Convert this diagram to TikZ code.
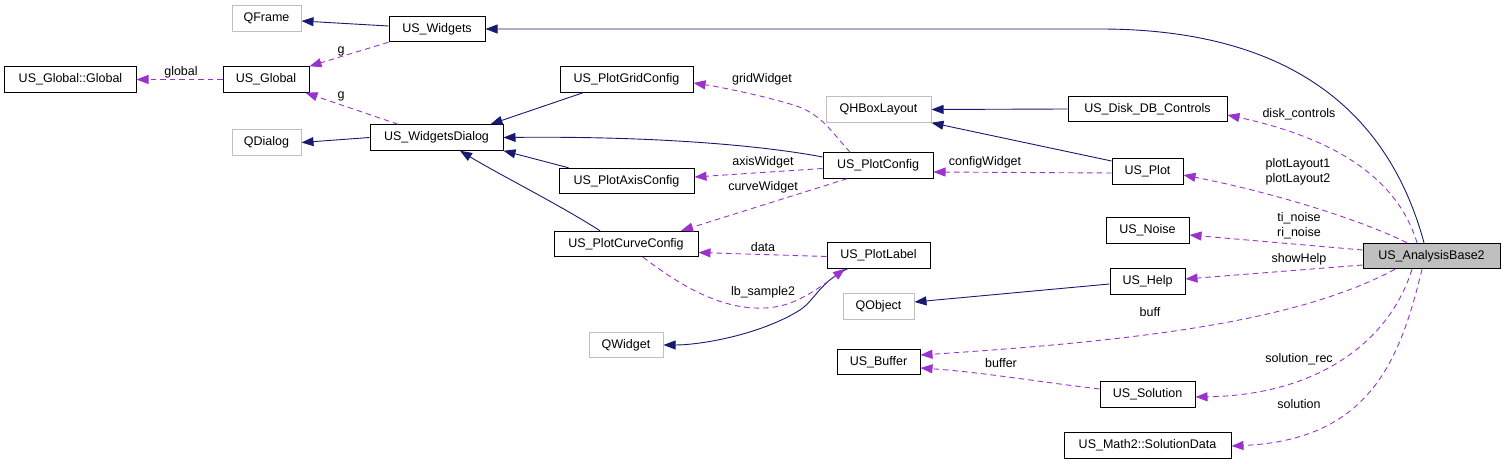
\documentclass[tikz,border=0pt]{standalone}
\usepackage{fontspec}
\setmainfont{Liberation Sans}
\usepackage{tikz}
\usetikzlibrary{arrows.meta}                % arrow tips

\definecolor{inhblue}{HTML}{191970}
\definecolor{usepurple}{HTML}{9A32CD}
\definecolor{extgray}{HTML}{BFBFBF}

\begin{document}
\begin{tikzpicture}[x=1bp, y=-1bp,
    cls/.style={draw=black, line width=1bp, minimum height=25.5bp, inner xsep=3bp,
                font=\fontsize{12.5bp}{15bp}\selectfont},
    ext/.style={cls, draw=extgray},
    cur/.style={cls, fill=extgray},
    inh/.style={draw=inhblue, line width=0.9bp, -{Triangle[length=12bp, width=9bp]}},
    use/.style={draw=usepurple, line width=0.9bp, dash pattern=on 5.5bp off 4bp,
                -{Triangle[length=12bp, width=9bp]}},
    lbl/.style={inner sep=0pt, align=center, font=\fontsize{12.5bp}{15bp}\selectfont}]
    \useasboundingbox (0,0) rectangle (1504,464);

    % classes
    \node[ext, minimum width=69bp]  (qframe) at (266.5,18.5) {QFrame};
    \node[cls, minimum width=96bp]  (wid)    at (437,29)     {US\_Widgets};
    \node[cls, minimum width=131bp] (gglob)  at (70.5,79.5)  {US\_Global::Global};
    \node[cls, minimum width=86bp]  (glob)   at (266,79.5)   {US\_Global};
    \node[ext, minimum width=69bp]  (qdialog) at (266.5,142.5) {QDialog};
    \node[cls, minimum width=133bp] (wd)     at (436.5,137.5) {US\_WidgetsDialog};
    \node[cls, minimum width=133bp] (pgc)    at (626.5,79.5) {US\_PlotGridConfig};
    \node[ext, minimum width=105bp] (qhb)    at (878.5,109.5) {QHBoxLayout};
    \node[cls, minimum width=110bp] (pc)     at (878,165.5)  {US\_PlotConfig};
    \node[cls, minimum width=135bp] (pac)    at (626.5,181)  {US\_PlotAxisConfig};
    \node[cls, minimum width=144bp] (pcc)    at (626,244)    {US\_PlotCurveConfig};
    \node[cls, minimum width=103bp] (plbl)   at (878.5,255.5) {US\_PlotLabel};
    \node[cls, minimum width=159bp] (ddb)    at (1147.5,109) {US\_Disk\_DB\_Controls};
    \node[cls, minimum width=71bp]  (plot)   at (1147.5,171.5) {US\_Plot};
    \node[cls, minimum width=83bp]  (noise)  at (1147.5,230.5) {US\_Noise};
    \node[cur, minimum width=137bp] (ab2)    at (1431.5,256) {US\_AnalysisBase2};
    \node[cls, minimum width=75bp]  (help)   at (1147.5,281.5) {US\_Help};
    \node[ext, minimum width=71bp]  (qobj)   at (878.5,306.5) {QObject};
    \node[ext, minimum width=74bp]  (qwid)   at (626,345)    {QWidget};
    \node[cls, minimum width=83bp]  (buf)    at (878.5,362)  {US\_Buffer};
    \node[cls, minimum width=95bp]  (sol)    at (1147.5,394.5) {US\_Solution};
    \node[cls, minimum width=167bp] (sdata)  at (1147.5,445.5) {US\_Math2::SolutionData};

    % inheritance
    \draw[inh] ([yshift=3bp]wid.west) -- ([yshift=-2.5bp]qframe.east);
    \draw[inh] ([xshift=-7.5bp]ab2.north) .. controls (1392,125) and (1305,29) .. (1100,29) -- (wid.east);
    \draw[inh] (wd.west) -- (qdialog.east);
    \draw[inh] ([xshift=-43.5bp]pgc.south) -- ([xshift=-13bp]wd.north east);
    \draw[inh] ([yshift=8.5bp]pc.west) .. controls (760,145) and (650,136) .. (wd.east);
    \draw[inh] ([xshift=10bp]pac.north west) -- (wd.south east);
    \draw[inh] ([xshift=-26bp]pcc.north) .. controls (560,205) and (500,175) .. ([xshift=23.5bp]wd.south);
    \draw[inh] (ddb.west) -- (qhb.east);
    \draw[inh] ([yshift=10.5bp]plot.west) -- (qhb.south east);
    \draw[inh] ([yshift=-2.5bp]help.west) -- ([yshift=4.5bp]qobj.east);
    \draw[inh] ([xshift=-31bp]plbl.south) .. controls (820,282) and (815,300) .. (800,310)
        .. controls (760,335) and (700,345) .. (qwid.east);

    % usage
    \draw[use] (wid.south west) -- (glob.north east) node[lbl] at (341,51) {g};
    \draw[use] ([xshift=-38.5bp]wd.north) -- ([xshift=-4bp]glob.south east) node[lbl] at (341,96) {g};
    \draw[use] (glob.west) -- (gglob.east) node[lbl] at (181,72) {global};
    \draw[use] ([xshift=-28bp]pc.north) .. controls (830,130) and (820,112) .. (790,104)
        .. controls (760,95) and (720,87) .. ([yshift=-3.5bp]pgc.east) node[lbl] at (762,79) {gridWidget};
    \draw[use] ([yshift=-3bp]pc.west) -- ([yshift=4bp]pac.east) node[lbl] at (763,162) {axisWidget};
    \draw[use] ([xshift=-31bp]pc.south) -- ([xshift=55bp]pcc.north) node[lbl] at (763,187) {curveWidget};
    \draw[use] ([yshift=-1bp]plbl.west) -- ([yshift=-8.5bp]pcc.east) node[lbl] at (763,247) {data};
    \draw[use] ([xshift=17bp]pcc.south) .. controls (680,285) and (720,310) .. (765,308)
        .. controls (790,307) and (810,295) .. ([xshift=-33.5bp]plbl.south) node[lbl] at (763,292) {lb\_sample2};
    \draw[use] ([yshift=-1.5bp]plot.west) -- ([yshift=-6.5bp]pc.east) node[lbl] at (985,162) {configWidget};
    \draw[use] ([xshift=-14.5bp]ab2.north) .. controls (1395,170) and (1320,135) .. ([yshift=-6bp]ddb.east)
        node[lbl] at (1299,114) {disk\_controls};
    \draw[use] ([xshift=-24.5bp]ab2.north) .. controls (1350,215) and (1260,190) .. ([yshift=-3.5bp]plot.east)
        node[lbl] at (1298,171.5) {plotLayout1\\plotLayout2};
    \draw[use] ([yshift=6bp]ab2.west) -- ([yshift=-4.5bp]noise.east) node[lbl] at (1299,225.5) {ti\_noise\\ri\_noise};
    \draw[use] ([yshift=-9bp]ab2.west) -- ([yshift=2.5bp]help.east) node[lbl] at (1299,259) {showHelp};
    \draw[use] ([xshift=-36.5bp]ab2.south) .. controls (1300,320) and (1150,340) .. ([yshift=7bp]buf.east)
        node[lbl] at (1150,312) {buff};
    \draw[use] ([yshift=5.5bp]sol.west) .. controls (1040,382) and (980,372) .. ([yshift=-6bp]buf.east)
        node[lbl] at (1001,363) {buffer};
    \draw[use] ([xshift=-19.5bp]ab2.south) .. controls (1390,340) and (1320,395) .. ([yshift=-2.5bp]sol.east)
        node[lbl] at (1299,359) {solution\_rec};
    \draw[use] ([xshift=-9.5bp]ab2.south) .. controls (1400,360) and (1370,440) .. ([yshift=-0.5bp]sdata.east)
        node[lbl] at (1299,404) {solution};
\end{tikzpicture}
\end{document}
